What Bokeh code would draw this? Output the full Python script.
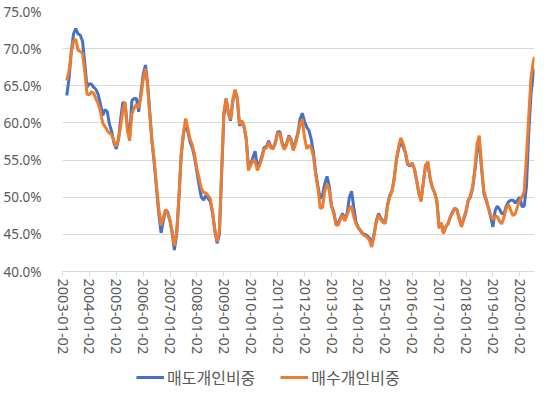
import pandas as pd
from bokeh.plotting import figure
from bokeh.layouts import column
from bokeh.models import (ColumnDataSource, FixedTicker, DatetimeTickFormatter,
                          PrintfTickFormatter, Legend, LegendItem, Range1d)
from bokeh.embed import file_html
from bokeh.resources import INLINE

# monthly sampling points (first of month) + last observation
dates = list(pd.date_range("2003-03-01", "2020-07-01", freq="MS").strftime("%Y-%m-%d")) + ["2020-07-19"]

# 매도개인비중 (%)
sell = [
    63.7, 66.0, 69.5, 72.0, 72.7, 72.0, 71.8, 71.0, 68.0, 64.8,
    65.3, 65.2, 64.8, 64.5, 63.8, 62.5, 61.0, 61.8, 61.5, 59.8, 58.8, 57.3,
    56.5, 57.8, 60.5, 62.8, 62.5, 59.5, 58.0, 63.0, 63.3, 63.3, 61.5, 64.0,
    66.5, 67.8, 65.5, 61.5, 57.5, 54.5, 51.2, 47.8, 45.2, 46.8, 48.3, 48.0,
    46.8, 45.0, 42.9, 45.0, 49.8, 55.5, 58.4, 60.0, 58.8, 57.4, 56.6, 55.3,
    53.4, 51.5, 50.0, 49.6, 50.3, 49.8, 49.4, 47.8, 45.5, 43.8, 45.0, 53.0,
    61.0, 63.3, 61.5, 60.3, 62.8, 64.3, 63.3, 59.6, 60.2, 59.5, 57.8, 54.0,
    54.5, 55.4, 56.2, 54.0, 54.6, 55.5, 56.7, 56.8, 57.6, 56.8, 56.6, 57.4,
    58.8, 58.8, 57.4, 56.6, 57.2, 58.3, 57.8, 56.5, 57.5, 58.6, 60.5, 61.3,
    60.2, 59.4, 59.0, 57.8, 56.0, 53.3, 51.5, 49.8, 50.3, 51.8, 52.8, 51.5,
    48.8, 48.0, 46.6, 46.5, 47.2, 47.8, 47.0, 47.8, 50.0, 50.8, 48.5, 46.6,
    45.9, 45.5, 45.1, 45.0, 44.8, 44.5, 43.6, 45.0, 46.8, 47.8, 47.2, 46.8,
    46.6, 49.0, 50.2, 50.8, 52.5, 55.0, 56.5, 57.5, 56.8, 56.0, 54.4, 54.2,
    54.6, 53.8, 52.3, 50.6, 49.6, 52.0, 54.3, 54.6, 52.5, 51.3, 50.6, 49.5,
    46.0, 46.5, 45.2, 46.0, 46.4, 47.3, 48.0, 48.5, 48.3, 47.2, 46.2, 47.0,
    48.0, 49.6, 50.0, 51.2, 53.5, 56.3, 57.3, 53.8, 50.5, 49.6, 48.6, 47.4,
    46.0, 48.2, 48.8, 48.4, 47.8, 47.8, 48.8, 49.4, 49.6, 49.6, 49.2, 49.6,
    50.0, 48.7, 48.8, 51.5, 58.5, 63.8, 66.5, 67.3,
]

# 매수개인비중 (%)
buy = [
    65.7, 67.0, 69.5, 71.0, 71.3, 69.8, 69.6, 69.4, 66.8, 63.9,
    63.8, 64.2, 64.0, 63.2, 62.6, 61.5, 60.0, 59.5, 59.0, 58.6, 58.4, 57.5,
    56.8, 58.0, 59.5, 61.8, 62.8, 59.0, 57.6, 61.2, 62.0, 62.5, 62.0, 63.5,
    65.8, 67.3, 65.0, 61.0, 57.5, 55.0, 51.6, 48.5, 46.2, 47.3, 48.3, 47.8,
    46.8, 45.3, 43.5, 45.3, 49.8, 55.8, 58.6, 60.6, 59.2, 57.8, 57.0, 55.7,
    53.8, 52.5, 51.2, 50.6, 50.6, 50.2, 49.8, 48.0, 45.5, 44.0, 45.5, 53.5,
    61.5, 63.3, 61.3, 60.5, 63.0, 64.5, 63.5, 59.8, 60.3, 59.6, 57.8, 53.6,
    54.3, 55.0, 54.8, 53.6, 54.3, 55.2, 56.5, 56.6, 57.4, 56.6, 56.5, 57.2,
    58.6, 58.6, 57.2, 56.4, 57.0, 58.2, 57.6, 56.3, 57.2, 58.4, 59.8, 60.5,
    58.0, 56.5, 57.0, 56.6, 55.5, 53.0, 51.2, 48.5, 48.6, 50.8, 51.8, 51.0,
    48.8, 47.8, 46.3, 46.2, 47.0, 47.6, 46.8, 47.6, 48.5, 48.8, 47.3, 46.4,
    45.8, 45.4, 45.0, 44.8, 44.6, 44.2, 43.3, 44.8, 46.6, 47.6, 47.0, 46.6,
    46.5, 48.8, 50.0, 50.7, 52.3, 55.0, 56.8, 58.0, 57.2, 56.0, 54.5, 54.3,
    54.6, 53.8, 52.3, 50.5, 49.4, 52.0, 54.3, 54.8, 52.5, 51.3, 50.6, 49.5,
    45.8, 46.6, 45.1, 46.0, 46.4, 47.3, 47.8, 48.5, 48.3, 47.0, 46.0, 47.2,
    48.2, 49.6, 50.2, 51.4, 53.8, 57.2, 58.3, 54.2, 50.8, 49.8, 48.6, 47.6,
    47.0, 47.4, 47.4, 46.8, 46.4, 47.3, 48.5, 49.0, 48.2, 47.5, 47.8, 48.7,
    49.6, 50.0, 50.8, 55.5, 60.8, 66.0, 68.2, 68.9,
]

tick_labels = ["2003-01-02", "2004-01-02", "2005-01-02", "2006-01-02", "2007-01-02",
               "2008-01-02", "2009-01-02", "2010-01-02", "2011-01-02", "2012-01-02",
               "2013-01-02", "2014-01-02", "2015-01-02", "2016-01-02", "2017-01-02",
               "2018-01-02", "2019-01-02", "2020-01-02"]
y_ticks = [40, 45, 50, 55, 60, 65, 70, 75]
series_names = ["매도개인비중", "매수개인비중"]
colors = ["#4472C4", "#ED7D31"]

src = ColumnDataSource(dict(date=pd.to_datetime(dates), sell=sell, buy=buy))

GRAY = "#595959"
GRID = "#d9d9d9"
TICK_FONT = "Noto Sans"
KR_FONT = "Noto Sans CJK KR"

x_range = Range1d(pd.Timestamp(tick_labels[0]), pd.Timestamp("2020-07-19"))

p = figure(width=547, height=360, x_axis_type="datetime",
           x_range=x_range, y_range=Range1d(40, 75),
           output_backend="svg", toolbar_location=None,
           min_border_left=56, min_border_right=13, min_border_top=11, min_border_bottom=89)
p.outline_line_color = None

p.line("date", "sell", source=src, line_color=colors[0], line_width=3)
p.line("date", "buy", source=src, line_color=colors[1], line_width=3)

# y axis
p.yaxis.ticker = FixedTicker(ticks=y_ticks)
p.yaxis.formatter = PrintfTickFormatter(format="%.1f%%")
p.yaxis.axis_line_color = None
p.yaxis.major_tick_line_color = None
p.yaxis.minor_tick_line_color = None
p.yaxis.major_label_standoff = 15
p.yaxis.major_label_text_font = TICK_FONT
p.yaxis.major_label_text_font_size = "13.5px"
p.yaxis.major_label_text_color = GRAY

# x axis
xt = [pd.Timestamp(t).value / 1e6 for t in tick_labels]
p.xaxis.ticker = FixedTicker(ticks=xt)
fmt = "%Y-%m-%d"
p.xaxis.formatter = DatetimeTickFormatter(milliseconds=fmt, seconds=fmt, minsec=fmt, minutes=fmt,
                                          hourmin=fmt, hours=fmt, days=fmt, months=fmt, years=fmt)
p.xaxis.major_label_orientation = "vertical"
p.xaxis.axis_line_color = GRID
p.xaxis.major_tick_line_color = GRID
p.xaxis.major_tick_out = 5
p.xaxis.major_tick_in = 0
p.xaxis.minor_tick_line_color = None
p.xaxis.major_label_standoff = 2
p.xaxis.major_label_text_font = TICK_FONT
p.xaxis.major_label_text_font_size = "14.5px"
p.xaxis.major_label_text_color = GRAY

p.xgrid.grid_line_color = None
p.ygrid.grid_line_color = GRID
p.ygrid.grid_line_width = 1

# legend strip below the chart (same series, drawn outside its visible range)
q = figure(width=547, height=34, x_axis_type="datetime",
           x_range=x_range, y_range=Range1d(100, 101),
           x_axis_location=None, y_axis_location=None,
           output_backend="svg", toolbar_location=None,
           min_border_left=0, min_border_right=0, min_border_top=0, min_border_bottom=0)
q.outline_line_color = None
q.grid.visible = False
l1 = q.line("date", "sell", source=src, line_color=colors[0], line_width=3)
l2 = q.line("date", "buy", source=src, line_color=colors[1], line_width=3)

legend = Legend(items=[LegendItem(label=series_names[0], renderers=[l1]),
                       LegendItem(label=series_names[1], renderers=[l2])],
                orientation="horizontal", location=(74, 5),
                label_text_font=KR_FONT, label_text_font_size="16px",
                label_text_color=GRAY, glyph_width=28, glyph_height=20, label_height=20,
                label_standoff=3, spacing=25, padding=0, margin=0,
                border_line_color=None, background_fill_alpha=0)
q.add_layout(legend)

layout = column(p, q, spacing=0)
open("out.html", "w").write(file_html(layout, INLINE))
